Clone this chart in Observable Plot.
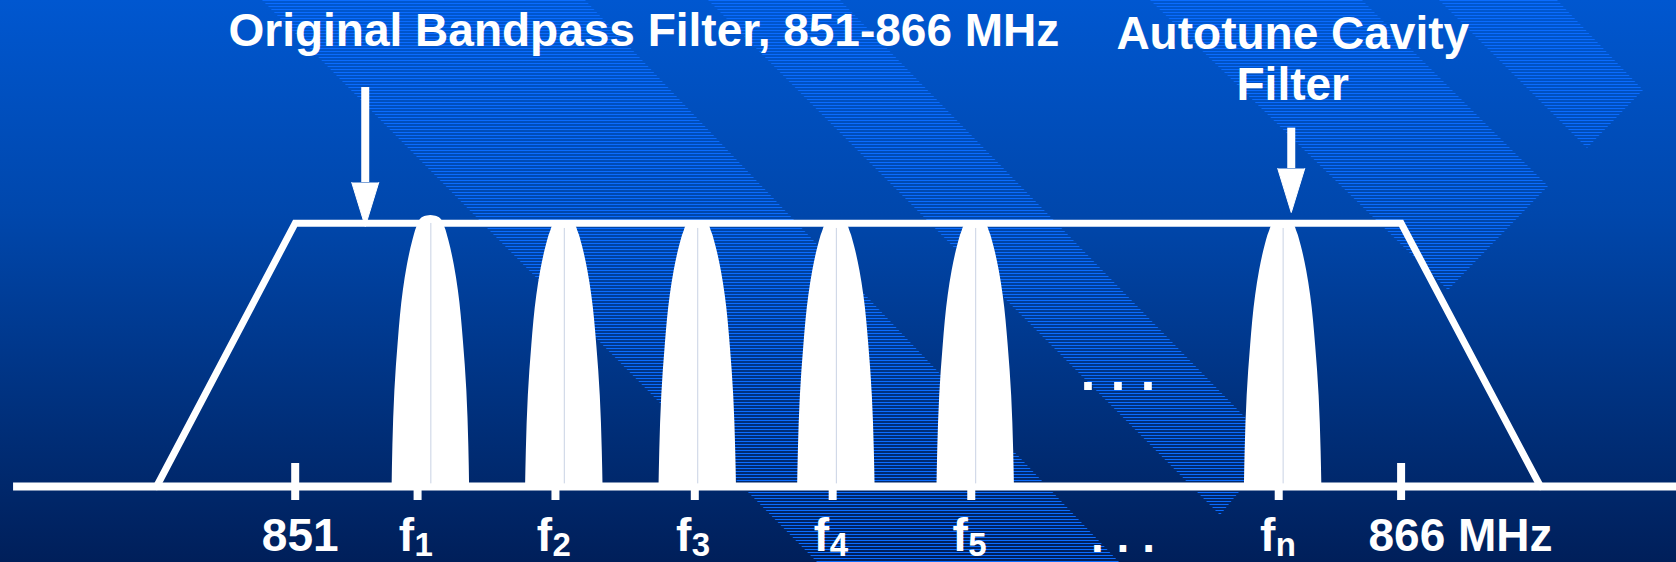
<!DOCTYPE html>
<html>
<head>
<meta charset="utf-8">
<script src="https://cdn.jsdelivr.net/npm/d3@7"></script>
<script src="https://cdn.jsdelivr.net/npm/@observablehq/plot@0.6"></script>
<style>
  html, body { margin: 0; padding: 0; background: #001f5a; }
  #wrap {
    position: relative; width: 1676px; height: 562px; overflow: hidden;
    background: linear-gradient(to bottom, #0057d0 0%, #0047ac 38%, #002d76 78%, #001f5a 100%);
  }
  .band {
    position: absolute; left: 0; top: 0; width: 1676px; height: 562px;
    background: repeating-linear-gradient(to bottom,
      #0a6cff 0px, #0a6cff 1.5px, rgba(10,108,255,0) 1.5px, rgba(10,108,255,0) 3px);
  }
  #chart { position: absolute; left: 0; top: 0; }
</style>
</head>
<body>
<div id="wrap">
  <div class="band" style="clip-path: polygon(262px 0, 585px 0, 1119px 562px, 817px 562px)"></div>
  <div class="band" style="clip-path: polygon(708px 0, 840px 0, 1275px 448px, 1220px 515px)"></div>
  <div class="band" style="clip-path: polygon(1150px 0, 1362px 0, 1548px 186px, 1448px 290px)"></div>
  <div class="band" style="clip-path: polygon(1439px 0, 1557px 0, 1643px 90px, 1587px 148px)"></div>
  <div id="chart"></div>
</div>
<script>
// ---- data (x in MHz, y in relative response level) ----
const tickValues = [851, 852.66, 854.53, 856.42, 858.29, 860.17, 864.34, 866];
const tickLabels = ["851", "f", "f", "f", "f", "f", "f", "866 MHz"];
const tickSubscripts = ["", "1", "2", "3", "4", "5", "n", ""];

const channelNames = ["f1", "f2", "f3", "f4", "f5", "fn"];
const channelCenters = [852.84, 854.65, 856.46, 858.34, 860.23, 864.40];
const channelPeaks = [1.029, 1.01, 1.01, 1.01, 1.01, 1.01];

// cavity response profile: drop below peak (level) vs half-width (MHz)
const profileDrop = [0, 0.0038, 0.0133, 0.0444, 0.095, 0.19, 0.285, 0.475, 0.665, 0.874, 1.044];
const profileHalfWidth = [0, 0.081, 0.136, 0.19, 0.244, 0.319, 0.373, 0.441, 0.488, 0.515, 0.526];

const bandpassMHz = [849.12, 851, 866, 867.89];
const bandpassLevel = [0, 1, 1, 0];
const axisExtent = [847.18, 869.8];

const arrowNames = ["bandpass", "cavity"];
const arrowX = [851.95, 864.51];
const arrowTail = [1.515, 1.361];
const arrowTip = [0.9875, 1.0406];

const titleText = "Original Bandpass Filter, 851-866 MHz";
const cavityText = "Autotune Cavity\nFilter";
const ellipsisText = ". . .";

// ---- derived tables ----
const ticks = tickValues.map((x, i) => ({x, label: tickLabels[i], sub: tickSubscripts[i]}));
const bandpass = bandpassMHz.map((x, i) => ({x, y: bandpassLevel[i]}));
const channels = channelNames.map((name, i) => ({name, x: channelCenters[i], peak: channelPeaks[i]}));
const shapeRows = channels.flatMap(c => profileDrop.map((d, j) => ({
  name: c.name,
  y: Math.max(-0.012, c.peak - d),
  x1: c.x - profileHalfWidth[j],
  x2: c.x + profileHalfWidth[j]
})));
const arrows = arrowNames.map((name, i) => ({name, x: arrowX[i], tail: arrowTail[i], tip: arrowTip[i]}));

const HEAD_LEN = 0.167;   // level units (~44px)
const HEAD_HALF = 0.183;  // MHz (~13.5px)
const headRows = arrows.flatMap(a => [
  {name: a.name, x: a.x - HEAD_HALF, y: a.tip + HEAD_LEN},
  {name: a.name, x: a.x, y: a.tip},
  {name: a.name, x: a.x + HEAD_HALF, y: a.tip + HEAD_LEN}
]);

const font = "'Liberation Sans', Arial, Helvetica, sans-serif";
const txt = {fill: "white", fontWeight: "bold", fontFamily: font, lineAnchor: "bottom"};

const chart = Plot.plot({
  width: 1676,
  height: 562,
  margin: 0,
  x: {domain: [851, 866], range: [294.7, 1400.6], axis: null},
  y: {domain: [0, 1], range: [486, 222.7], axis: null},
  style: {background: "transparent", overflow: "visible", fontFamily: font},
  marks: [
    // ticks
    Plot.ruleX(ticks, {x: "x", y1: 0.0874, y2: -0.0532, stroke: "white", strokeWidth: 8}),
    // frequency axis line
    Plot.ruleY([0], {x1: axisExtent[0], x2: axisExtent[1], stroke: "white", strokeWidth: 8}),
    // original bandpass filter
    Plot.line(bandpass, {x: "x", y: "y", stroke: "white", strokeWidth: 7, strokeLinejoin: "miter", strokeMiterlimit: 10}),
    // autotune cavity responses
    Plot.areaX(shapeRows, {y: "y", x1: "x1", x2: "x2", z: "name", fill: "white", curve: "monotone-y"}),
    Plot.ruleX(channels, {x: "x", y1: 0.01, y2: d => d.peak - 0.03, stroke: "#c9d2e4", strokeWidth: 1}),
    // arrows
    Plot.ruleX(arrows, {x: "x", y1: "tail", y2: d => d.tip + HEAD_LEN, stroke: "white", strokeWidth: 8}),
    Plot.line(headRows, {x: "x", y: "y", z: "name", fill: "white", stroke: "white", strokeWidth: 1}),
    // titles
    Plot.text([titleText], {...txt, text: d => d, frameAnchor: "top-left", dx: 228, dy: 45, textAnchor: "start", fontSize: 46}),
    Plot.text([arrows[1]], {...txt, x: "x", text: () => cavityText, frameAnchor: "top", dx: 1.5, dy: 99, textAnchor: "middle", fontSize: 46, lineHeight: 51 / 46}),
    // ellipses
    Plot.text([ellipsisText], {...txt, text: d => d, frameAnchor: "top-left", dx: 1117.5, dy: 389, textAnchor: "middle", fontSize: 54}),
    Plot.text([ellipsisText], {...txt, text: d => d, frameAnchor: "bottom-left", dx: 1122.5, dy: -11, textAnchor: "middle", fontSize: 46}),
    // tick labels
    Plot.text(ticks.filter(d => !d.sub && !d.label.includes(" ")), {...txt, x: "x", text: "label", frameAnchor: "bottom", dx: 5, dy: -12, textAnchor: "middle", fontSize: 46}),
    Plot.text(ticks.filter(d => !d.sub && d.label.includes(" ")), {...txt, x: "x", text: "label", frameAnchor: "bottom", dx: -32.6, dy: -12, textAnchor: "start", fontSize: 46}),
    Plot.text(ticks.filter(d => d.sub), {...txt, x: "x", text: "label", frameAnchor: "bottom", dx: -3.5, dy: -12, textAnchor: "end", fontSize: 46}),
    Plot.text(ticks.filter(d => d.sub), {...txt, x: "x", text: "sub", frameAnchor: "bottom", dx: -3, dy: -7, textAnchor: "start", fontSize: 33})
  ]
});
document.getElementById("chart").appendChild(chart);
</script>
</body>
</html>
